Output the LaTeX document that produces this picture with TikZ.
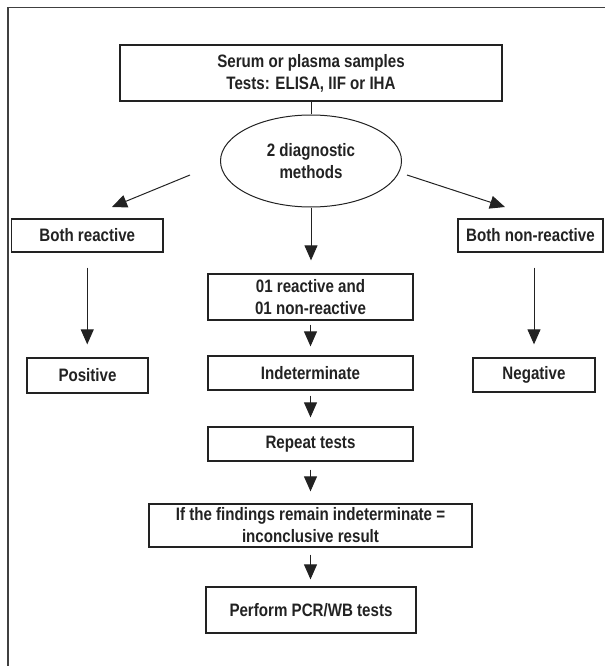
\documentclass[tikz,border=0pt]{standalone}
\usepackage{fontspec}
\setmainfont{Liberation Sans}[FakeStretch=0.84]
\usetikzlibrary{arrows.meta,shapes.geometric}
\definecolor{ink}{HTML}{222222}
\tikzset{
  box/.style={draw=ink, line width=1.3pt, rectangle, inner sep=0pt, align=center,
    text=ink, font=\fontsize{18}{22}\selectfont\bfseries},
  oval/.style={draw=ink, line width=1pt, ellipse, inner sep=0pt, align=center,
    text=ink, font=\fontsize{18}{22}\selectfont\bfseries},
  arr/.style={draw=ink, line width=1pt, -{Triangle[length=15pt,width=13pt]}},
  frame/.style={draw=black!75, line width=1.6pt}
}
\begin{document}
\begin{tikzpicture}[x=1pt,y=-1pt]
\useasboundingbox (0,0) rectangle (605,666);
\coordinate (fb) at (7.7,666);
\coordinate (fc) at (7.7,7.7);
\coordinate (fr) at (605,7.7);
\draw[frame] (fb) -- (fc) -- (fr);

\node[box, minimum width=382pt, minimum height=56pt] (top) at (311,73) {Serum or plasma samples\\Tests: ELISA, IIF or IHA};
\node[oval, minimum width=181pt, minimum height=92pt] (ell) at (311,161) {2 diagnostic\\methods};
\node[box, minimum width=151.5pt, minimum height=33pt] (br) at (87.25,235.5) {Both reactive};
\node[box, minimum width=145pt, minimum height=33pt] (bnr) at (530.5,235.5) {Both non-reactive};
\node[box, minimum width=205pt, minimum height=46pt] (mid) at (310.5,297) {01 reactive and\\01 non-reactive};
\node[box, minimum width=121pt, minimum height=35pt] (pos) at (87.5,375.5) {Positive};
\node[box, minimum width=205pt, minimum height=34pt] (ind) at (310.5,373) {Indeterminate};
\node[box, minimum width=122pt, minimum height=34pt] (neg) at (534,375) {Negative};
\node[box, minimum width=205pt, minimum height=34pt] (rep) at (310.5,444) {Repeat tests};
\node[box, minimum width=323pt, minimum height=43pt] (iff) at (310.5,525.5) {If the findings remain indeterminate =\\inconclusive result};
\node[box, minimum width=210pt, minimum height=46pt] (pcr) at (311,610) {Perform PCR/WB tests};

\draw[ink, line width=1pt] (top.south) -- (ell.north);

\coordinate (dl1) at (190,175);
\coordinate (dl2) at (112,207);
\coordinate (dr1) at (407,175);
\coordinate (dr2) at (505,207);
\draw[arr] (dl1) -- (dl2);
\draw[arr] (dr1) -- (dr2);

\draw[arr, shorten >=13pt] (ell.south) -- (ell.south |- mid.north);
\draw[arr, shorten <=4pt, shorten >=9pt] (mid.south) -- (ind.north);
\draw[arr, shorten <=5pt, shorten >=9pt] (ind.south) -- (rep.north);
\draw[arr, shorten <=8pt, shorten >=12pt] (rep.south) -- (rep.south |- iff.north);
\draw[arr, shorten <=7pt, shorten >=7pt] (iff.south) -- (iff.south |- pcr.north);
\draw[arr, shorten <=15pt, shorten >=13pt] (br.south) -- (br.south |- pos.north);
\draw[arr, shorten <=15pt, shorten >=13pt] (neg.north |- bnr.south) -- (neg.north);
\end{tikzpicture}
\end{document}
